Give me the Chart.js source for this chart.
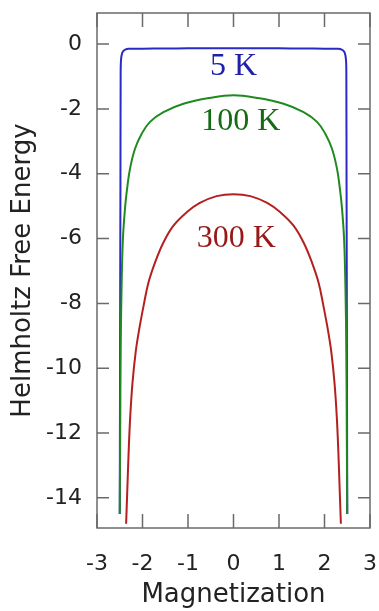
<!DOCTYPE html>
<html>
<head>
<meta charset="utf-8">
<script src="https://cdn.jsdelivr.net/npm/chart.js@4.4.0/dist/chart.umd.min.js"></script>
<style>
  html, body { margin: 0; padding: 0; background: #fff; }
  canvas { display: block; }
</style>
</head>
<body>
<canvas id="freeEnergyChart" width="379" height="611"></canvas>
<script>
// Values (magnetization -> free energy)
const blueX = [-2.50, -2.495, -2.49, -2.485, -2.48, -2.475, -2.46, -2.43, -2.38, -2.30, -2.00, -1.50, -1.00, -0.50, 0,
               0.50, 1.00, 1.50, 2.00, 2.30, 2.38, 2.43, 2.46, 2.475, 2.48, 2.485, 2.49, 2.495, 2.50];
const blueY = [-14.5, -11.0, -7.5, -4.5, -0.9, -0.55, -0.35, -0.23, -0.17, -0.145, -0.14, -0.135, -0.13, -0.13, -0.13,
               -0.13, -0.13, -0.135, -0.14, -0.145, -0.17, -0.23, -0.35, -0.55, -0.9, -4.5, -7.5, -11.0, -14.5];

const greenX = [-2.50, -2.49, -2.48, -2.46, -2.43, -2.38, -2.33, -2.275, -2.165, -2.02, -1.835, -1.54, -1.10, -0.52, 0,
                0.52, 1.10, 1.54, 1.835, 2.02, 2.165, 2.275, 2.33, 2.38, 2.43, 2.46, 2.48, 2.49, 2.50];
const greenY = [-14.5, -12.0, -9.5, -7.5, -6.0, -5.0, -4.37, -3.85, -3.23, -2.77, -2.40, -2.10, -1.84, -1.66, -1.58,
                -1.66, -1.84, -2.10, -2.40, -2.77, -3.23, -3.85, -4.37, -5.0, -6.0, -7.5, -9.5, -12.0, -14.5];

const redX = [-2.36, -2.335, -2.305, -2.27, -2.22, -2.15, -2.07, -1.97, -1.87, -1.725, -1.54, -1.32, -1.03, -0.74, -0.37, 0,
              0.37, 0.74, 1.03, 1.32, 1.54, 1.725, 1.87, 1.97, 2.07, 2.15, 2.22, 2.27, 2.305, 2.335, 2.36];
const redY = [-14.8, -13.8, -12.6, -11.5, -10.45, -9.5, -8.78, -8.03, -7.36, -6.74, -6.12, -5.60, -5.19, -4.90, -4.69, -4.63,
              -4.69, -4.90, -5.19, -5.60, -6.12, -6.74, -7.36, -8.03, -8.78, -9.5, -10.45, -11.5, -12.6, -13.8, -14.8];

const xTicks = [-3, -2, -1, 0, 1, 2, 3];
const yTicks = [-14, -12, -10, -8, -6, -4, -2, 0];

const toPoints = (xs, ys) => xs.map((x, i) => ({ x: x, y: ys[i] }));

// frame + inward gnuplot-style ticks on all four sides
const frameTicks = {
  id: 'frameTicks',
  afterDraw(chart) {
    const { ctx, chartArea: a, scales } = chart;
    ctx.save();
    ctx.strokeStyle = '#6a6a6a';
    ctx.lineWidth = 1.5;
    ctx.strokeRect(a.left, a.top, a.right - a.left, a.bottom - a.top);
    ctx.beginPath();
    xTicks.forEach(v => {
      const px = scales.x.getPixelForValue(v);
      ctx.moveTo(px, a.bottom); ctx.lineTo(px, a.bottom - 14);
      ctx.moveTo(px, a.top); ctx.lineTo(px, a.top + 14);
    });
    yTicks.forEach(v => {
      const py = scales.y.getPixelForValue(v);
      ctx.moveTo(a.left, py); ctx.lineTo(a.left + 12, py);
      ctx.moveTo(a.right, py); ctx.lineTo(a.right - 12, py);
    });
    ctx.stroke();
    ctx.restore();
  }
};

// curve names written inside the plot
const curveText = {
  id: 'curveText',
  afterDatasetsDraw(chart, args, opts) {
    const { ctx, scales } = chart;
    ctx.save();
    ctx.font = '32px "Liberation Serif", serif';
    ctx.textAlign = 'center';
    ctx.textBaseline = 'middle';
    opts.items.forEach(it => {
      ctx.fillStyle = it.color;
      ctx.fillText(it.text, scales.x.getPixelForValue(it.x), scales.y.getPixelForValue(it.y));
    });
    ctx.restore();
  }
};

// fixed axis boxes, no label overhang padding
const fixBox = size => s => {
  if (s.isHorizontal()) s.height = size; else s.width = size;
  s.paddingTop = s.paddingBottom = s.paddingLeft = s.paddingRight = 0;
};

const sans = 'DejaVu Sans';

new Chart(document.getElementById('freeEnergyChart'), {
  type: 'line',
  data: {
    datasets: [
      { label: '300 K', data: toPoints(redX, redY), borderColor: '#b42020' },
      { label: '100 K', data: toPoints(greenX, greenY), borderColor: '#208a20' },
      { label: '5 K', data: toPoints(blueX, blueY), borderColor: '#2a2ac4' }
    ]
  },
  options: {
    responsive: false,
    animation: false,
    parsing: false,
    datasets: {
      line: { borderWidth: 2, pointRadius: 0, fill: false, tension: 0.4 }
    },
    layout: { autoPadding: false, padding: { top: 13, right: 9, left: 0, bottom: 0 } },
    plugins: {
      legend: { display: false },
      tooltip: { enabled: false },
      curveText: {
        items: [
          { text: '5 K', x: 0, y: -0.7, color: '#2020a8' },
          { text: '100 K', x: 0.16, y: -2.38, color: '#156a15' },
          { text: '300 K', x: 0.06, y: -6.0, color: '#981818' }
        ]
      }
    },
    scales: {
      x: {
        type: 'linear',
        min: -3,
        max: 3,
        afterBuildTicks: s => { s.ticks = xTicks.map(v => ({ value: v })); },
        afterFit: fixBox(83),
        grid: { display: false, drawTicks: false },
        border: { display: false },
        ticks: { font: { family: sans, size: 22 }, color: '#222', padding: 23, maxRotation: 0 },
        title: { display: true, text: 'Magnetization', font: { family: sans, size: 26 }, color: '#222', padding: { top: 0, bottom: 0 } }
      },
      y: {
        type: 'linear',
        min: -14.93,
        max: 0.96,
        afterBuildTicks: s => { s.ticks = yTicks.map(v => ({ value: v })); },
        afterFit: fixBox(97),
        grid: { display: false, drawTicks: false },
        border: { display: false },
        ticks: { font: { family: sans, size: 22 }, color: '#222', padding: 15 },
        title: { display: true, text: 'Helmholtz Free Energy', font: { family: sans, size: 26 }, color: '#222', padding: { top: 8, bottom: 0 } }
      }
    }
  },
  plugins: [frameTicks, curveText]
});
</script>
</body>
</html>
